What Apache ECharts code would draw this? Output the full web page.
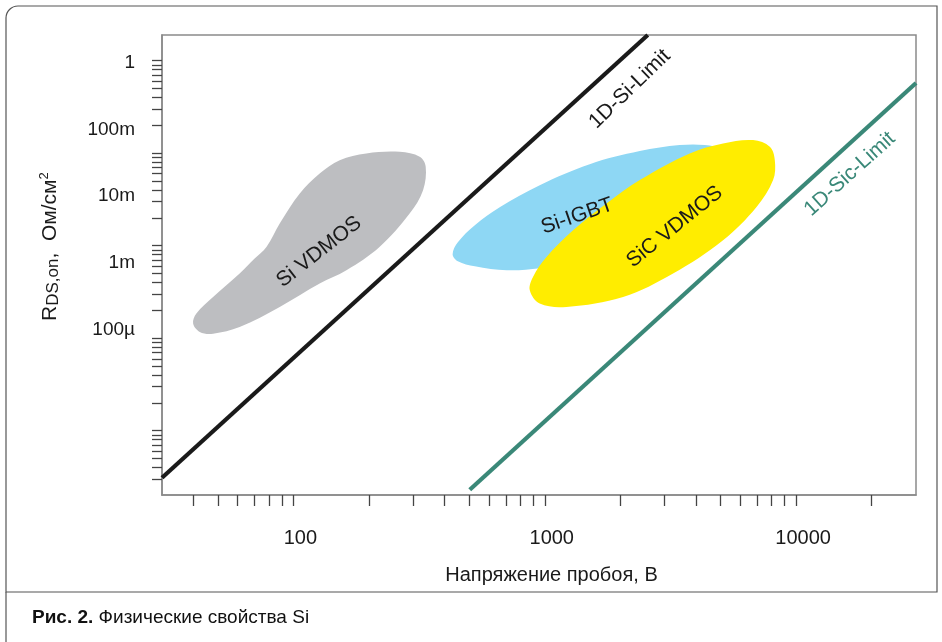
<!DOCTYPE html>
<html>
<head>
<meta charset="utf-8">
<script src="https://cdn.jsdelivr.net/npm/echarts@6/dist/echarts.min.js"></script>
<style>
html,body{margin:0;padding:0;background:#fff;}
#chart{width:942px;height:642px;}
</style>
</head>
<body>
<div id="chart"></div>
<script>
// ---------------- data ----------------
// X: breakdown voltage, V (log scale)
const xRange = [30, 30000];
const xTickValues = [40, 50, 60, 70, 80, 90,
  100, 200, 300, 400, 500, 600, 700, 800, 900,
  1000, 2000, 3000, 4000, 5000, 6000, 7000, 8000, 9000,
  10000, 20000];
const xLabelValues = [100, 1000, 10000];

// Y: R_DS,on, Ohm*cm^2 (log scale) - scale of the tick marks / data
const yRange = [2.02e-5, 1.897];
const yTickValues = [3e-5, 4e-5, 5e-5, 6e-5, 7e-5, 8e-5, 9e-5,
  1e-4, 2e-4, 3e-4, 4e-4, 5e-4, 6e-4, 7e-4, 8e-4, 9e-4,
  1e-3, 2e-3, 3e-3, 4e-3, 5e-3, 6e-3, 7e-3, 8e-3, 9e-3,
  1e-2, 2e-2, 3e-2, 4e-2, 5e-2, 6e-2, 7e-2, 8e-2, 9e-2,
  0.1, 0.2, 0.3, 0.4, 0.5, 0.6, 0.7, 0.8, 0.9, 1];
// Y tick labels as printed in the figure (their own, differently spaced scale)
const yLabelRange = [3.37e-7, 2.59];
const yLabelValues = [1, 0.1, 0.01, 0.001, 0.0001];
const yLabelTexts = ['1', '100m', '10m', '1m', '100µ'];

// limit lines [V, R]
const siLimit = [[30, 3.1e-5], [2570, 1.9]];
const sicLimit = [[503, 2.3e-5], [30000, 0.574]];

// device regions (outline points [V, R])
const siVdmos = [[336, 0.0713], [328, 0.0399], [290, 0.0223], [220, 0.0097], [162.5, 0.00543],
  [127.2, 0.0039], [88.2, 0.00218], [61.1, 0.00132], [47.9, 0.00112], [42.4, 0.00117],
  [39.9, 0.00144], [41.1, 0.00185], [47.9, 0.00279], [61.1, 0.0050], [70.1, 0.00727],
  [78.1, 0.0097], [88.2, 0.0174], [106, 0.0367], [127.2, 0.0604], [152.8, 0.0842],
  [195, 0.0995], [265, 0.1035], [318, 0.0914]];
const siIgbt = [[430, 0.00809], [451, 0.0109], [527, 0.01667], [662, 0.0261], [955, 0.0452],
  [1510, 0.0762], [2388, 0.1054], [3445, 0.1224], [4331, 0.1224], [5061, 0.108],
  [4880, 0.0801], [2868, 0.0274], [1655, 0.0101], [1147, 0.00647], [955, 0.00571],
  [706, 0.00543], [527, 0.0060], [451, 0.0068]];
const sicVdmos = [[872, 0.0033], [955, 0.00237], [1220, 0.00218], [2050, 0.00279], [3240, 0.0050],
  [5122, 0.01147], [6960, 0.0263], [8100, 0.0512], [8230, 0.0842], [7860, 0.1173],
  [6745, 0.1386], [5122, 0.1277], [3776, 0.0995], [2388, 0.0512], [1760, 0.0286],
  [1296, 0.0147], [1016, 0.00756], [898, 0.0046]];

// text annotations anchored at [V, R]
const annotationTexts = ['1D-Si-Limit', '1D-Sic-Limit', 'Si VDMOS', 'Si-IGBT', 'SiC VDMOS'];
const annotationAnchors = [[2179, 0.494], [16360, 0.0594], [126.5, 0.00857], [1345, 0.02086], [3291, 0.01598]];

// ---------------- styling ----------------
const FONT = '"Liberation Sans", Arial, Helvetica, sans-serif';
const annotationAngles = [44, 42, 38, 19, 39];
const annotationColors = ['#1a1a1a', '#3a8878', '#1a1a1a', '#1a1a1a', '#1a1a1a'];

const lg = v => Math.log10(v);
const toLog = arr => arr.map(p => [lg(p[0]), lg(p[1])]);

function regionSeries(points, color) {
  const data = toLog(points);
  return {
    type: 'custom',
    xAxisIndex: 0, yAxisIndex: 0,
    silent: true, clip: true,
    encode: {x: 0, y: 1},
    data: data,
    z: 2,
    renderItem: function (params, api) {
      if (params.dataIndex !== 0) return null;
      const pts = data.map(d => api.coord(d));
      return {type: 'polygon', shape: {points: pts, smooth: 0.35}, style: {fill: color}};
    }
  };
}

function lineSeries(points, color) {
  return {
    type: 'line', xAxisIndex: 0, yAxisIndex: 0,
    data: toLog(points), symbol: 'none', silent: true, z: 4,
    lineStyle: {color: color, width: 4.2, cap: 'butt'}
  };
}

const chart = echarts.init(document.getElementById('chart'), null, {renderer: 'canvas'});

const option = {
  animation: false,
  backgroundColor: '#ffffff',
  grid: {left: 162, right: 26, top: 35, bottom: 147, show: true,
         borderColor: '#8a8a8a', borderWidth: 1.5, backgroundColor: 'transparent'},
  xAxis: [{
    type: 'value', min: lg(xRange[0]), max: lg(xRange[1]), position: 'bottom',
    axisLine: {show: true, onZero: false, lineStyle: {color: '#8a8a8a', width: 1.5}},
    axisTick: {show: true, inside: false, length: 11, customValues: xTickValues.map(lg),
               lineStyle: {color: '#444', width: 1.3}},
    axisLabel: {show: true, customValues: xLabelValues.map(lg), margin: 33,
                padding: [0, 0, 0, 14],
                formatter: v => String(Math.round(Math.pow(10, v))),
                fontSize: 20, fontFamily: FONT, color: '#1a1a1a'},
    splitLine: {show: false}
  }],
  yAxis: [{
    type: 'value', min: lg(yRange[0]), max: lg(yRange[1]), position: 'left',
    axisLine: {show: true, onZero: false, lineStyle: {color: '#8a8a8a', width: 1.5}},
    axisTick: {show: true, inside: false, length: 10, customValues: yTickValues.map(lg),
               lineStyle: {color: '#444', width: 1.3}},
    axisLabel: {show: false},
    splitLine: {show: false}
  }, {
    type: 'value', min: lg(yLabelRange[0]), max: lg(yLabelRange[1]), position: 'left', offset: 0,
    axisLine: {show: false, onZero: false},
    axisTick: {show: false},
    axisLabel: {show: true, margin: 27, customValues: yLabelValues.map(lg),
                formatter: function (v) {
                  for (let i = 0; i < yLabelValues.length; i++) {
                    if (Math.abs(lg(yLabelValues[i]) - v) < 1e-6) return yLabelTexts[i];
                  }
                  return '';
                },
                fontSize: 19, fontFamily: FONT, color: '#1a1a1a'},
    splitLine: {show: false}
  }],
  series: [
    regionSeries(siVdmos, '#bdbec1'),
    regionSeries(siIgbt, '#8ed7f4'),
    regionSeries(sicVdmos, '#ffed00'),
    lineSeries(siLimit, '#1a1a1a'),
    lineSeries(sicLimit, '#3a8878'),
    {
      type: 'custom', xAxisIndex: 0, yAxisIndex: 0, silent: true, z: 6,
      encode: {x: 0, y: 1},
      data: toLog(annotationAnchors),
      renderItem: function (params, api) {
        const i = params.dataIndex;
        const p = api.coord([api.value(0), api.value(1)]);
        return {
          type: 'text', x: p[0], y: p[1], rotation: annotationAngles[i] * Math.PI / 180,
          style: {text: annotationTexts[i], fill: annotationColors[i],
                  font: '21px ' + FONT, align: 'center', verticalAlign: 'middle'}
        };
      }
    }
  ],
  graphic: [
    {type: 'rect', silent: true, z: -1,
     shape: {x: 6, y: 6, width: 931, height: 586, r: [12, 0, 0, 0]},
     style: {fill: 'none', stroke: '#555', lineWidth: 1.2}},
    {type: 'line', silent: true, shape: {x1: 6, y1: 592, x2: 6, y2: 642},
     style: {stroke: '#555', lineWidth: 1.2}},
    {type: 'text', silent: true, x: 551.5, y: 575.5,
     style: {text: 'Напряжение пробоя, В', font: '20px ' + FONT, fill: '#1a1a1a',
             align: 'center', verticalAlign: 'middle'}},
    {type: 'text', silent: true, x: 50, y: 321, rotation: Math.PI / 2,
     style: {text: '{r|R}{s|DS,on}{n|,  Ом/см}{p|2}', align: 'left', verticalAlign: 'middle',
             fill: '#1a1a1a',
             rich: {
               r: {fontSize: 21, fontFamily: FONT, lineHeight: 24, fill: '#1a1a1a'},
               s: {fontSize: 17, fontFamily: FONT, lineHeight: 17, verticalAlign: 'bottom', fill: '#1a1a1a'},
               n: {fontSize: 21, fontFamily: FONT, lineHeight: 24, fill: '#1a1a1a'},
               p: {fontSize: 13, fontFamily: FONT, lineHeight: 13, verticalAlign: 'top', fill: '#1a1a1a'}
             }}},
    {type: 'text', silent: true, x: 32, y: 618,
     style: {text: '{b|Рис. 2.}{n| Физические свойства Si}', align: 'left', verticalAlign: 'middle',
             rich: {
               b: {fontSize: 19, fontWeight: 'bold', fontFamily: '"Liberation Sans Narrow", ' + FONT, fill: '#111'},
               n: {fontSize: 19, fontFamily: '"Liberation Sans Narrow", ' + FONT, fill: '#111'}
             }}}
  ]
};

chart.setOption(option);
</script>
</body>
</html>
